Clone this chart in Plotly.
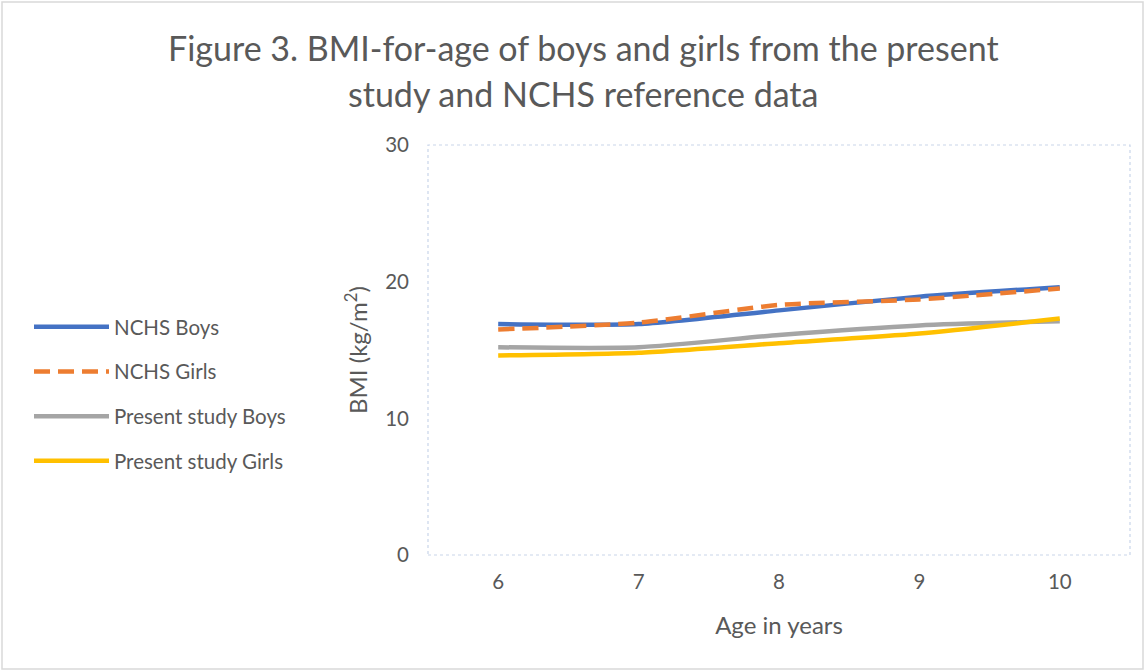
import plotly.graph_objects as go

# Age categories (years)
ages = ["6", "7", "8", "9", "10"]

# BMI (kg/m2) by age
nchs_boys = [16.9, 16.9, 17.9, 18.9, 19.6]
nchs_girls = [16.5, 17.0, 18.3, 18.7, 19.5]
study_boys = [15.2, 15.2, 16.1, 16.8, 17.1]
study_girls = [14.6, 14.8, 15.5, 16.2, 17.3]

series = [
    ("NCHS Boys", nchs_boys, "#4472C4", "solid"),
    ("NCHS Girls", nchs_girls, "#ED7D31", "16px,8px"),
    ("Present study Boys", study_boys, "#A5A5A5", "solid"),
    ("Present study Girls", study_girls, "#FFC000", "solid"),
]

FONT = "Lato"
TXT = "#595959"

# plot area in pixels, used to place paper-referenced items
L, R, T, B = 428, 15, 145, 116
PW, PH = 1145 - L - R, 671 - T - B


def px_x(p):
    return (p - L) / PW


def px_y(p):
    return (671 - B - p) / PH


fig = go.Figure()
for i, (name, vals, color, dash) in enumerate(series):
    fig.add_trace(go.Scatter(
        x=ages, y=vals, name=name, mode="lines",
        line=dict(color=color, width=4.5, dash=dash, shape="spline", smoothing=0.6),
        legendgroup=f"g{i}",
    ))

fig.update_layout(
    width=1145, height=671,
    margin=dict(l=L, r=R, t=T, b=B),
    paper_bgcolor="white", plot_bgcolor="white",
    font=dict(family=FONT, size=20, color=TXT),
    showlegend=True,
    legend=dict(
        x=px_x(29), xanchor="left", y=px_y(307), yanchor="top",
        traceorder="grouped", tracegroupgap=15,
        itemwidth=75,
        font=dict(family=FONT, size=20.5, color=TXT),
        bgcolor="rgba(0,0,0,0)",
    ),
    xaxis=dict(
        type="category", range=[-0.5, 4.5],
        showgrid=False, zeroline=False, showline=False,
        ticks="", ticklabelstandoff=12,
        tickfont=dict(size=20.5, color=TXT),
        title=dict(text="Age in years", font=dict(size=24, color=TXT), standoff=25),
    ),
    yaxis=dict(
        range=[0, 30], dtick=10,
        showgrid=False, zeroline=False, showline=False,
        ticks="", ticklabelstandoff=18,
        tickfont=dict(size=20.5, color=TXT),
        title=dict(text="BMI (kg/m<sup>2</sup>)", font=dict(size=24, color=TXT), standoff=10),
    ),
)

# two-line chart title
title_lines = [
    ("Figure 3. BMI-for-age of boys and girls from the present", 47),
    ("study and NCHS reference data", 93),
]
for text, yc in title_lines:
    fig.add_annotation(
        text=text, xref="paper", yref="paper", x=px_x(583), y=px_y(yc),
        xanchor="center", yanchor="middle", showarrow=False,
        font=dict(family=FONT, size=34, color=TXT),
    )

# dotted plot-area frame
fig.add_shape(type="rect", xref="paper", yref="paper", x0=0, y0=0, x1=1, y1=1,
              line=dict(color="#C9D5EA", width=1.2, dash="dot"), layer="below")
# outer chart border
fig.add_shape(type="rect", xref="paper", yref="paper",
              x0=px_x(2), x1=px_x(1143), y0=px_y(669), y1=px_y(2),
              line=dict(color="#D9D9D9", width=1.5))

fig.write_html("out.html")
